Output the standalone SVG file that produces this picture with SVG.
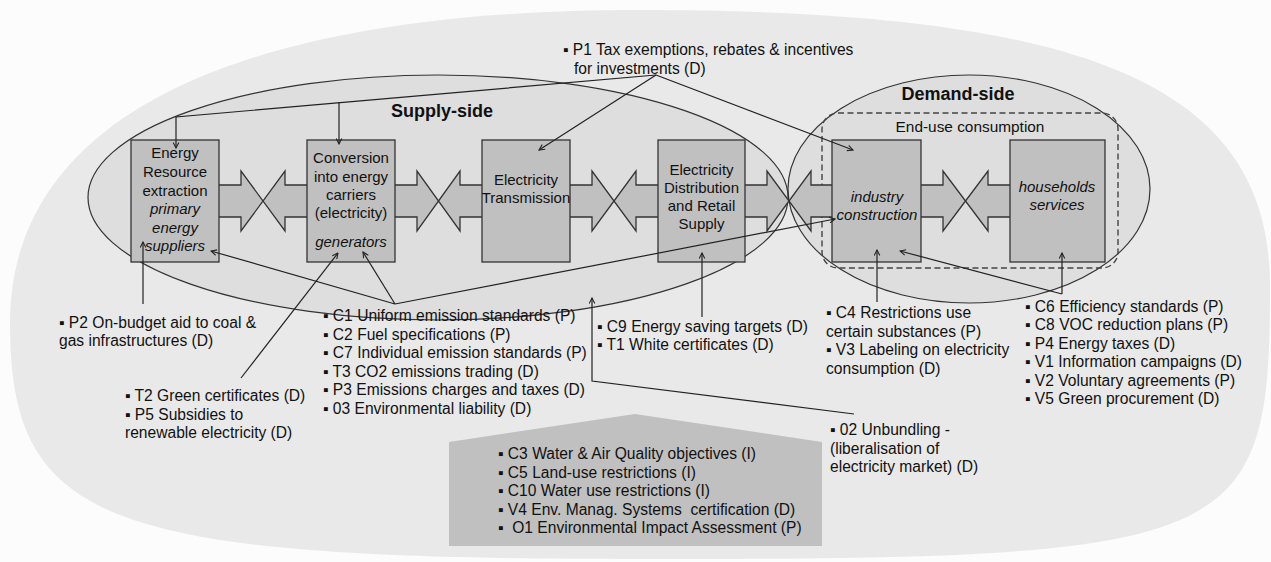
<svg xmlns="http://www.w3.org/2000/svg" width="1271" height="562" viewBox="0 0 1271 562">
<defs>
<style>
.t{font-family:"Liberation Sans",Arial,sans-serif;font-size:15.6px;fill:#111;white-space:pre}
.b{font-size:15px}
.c{text-anchor:middle}
.i{font-style:italic}
.h{font-weight:bold;font-size:18px}
.box{fill:#c0c0c0;stroke:#333;stroke-width:1.3}
.af{fill:#c0c0c0;stroke:none}
.as{fill:none;stroke:#333;stroke-width:1.3}
.ln{fill:none;stroke:#222;stroke-width:1.2}
.ar{marker-end:url(#ah)}
</style>
<marker id="ah" viewBox="0 0 10 10" refX="9" refY="5" markerWidth="7" markerHeight="7" markerUnits="userSpaceOnUse" orient="auto">
<path d="M1,1 L9,5 L1,9" fill="none" stroke="#222" stroke-width="1.5"/>
</marker>
</defs>
<rect width="1271" height="562" fill="#fcfcfc"/>
<g id="background">
<path d="M640,10 C1093.6,10 1270,87.6 1270,287 C1270,546.4 1238.5,559 640,559 C104.5,559 10,524.5 10,323 C10,119.6 230.5,10 640,10 Z" fill="#e9e9e9"/>
</g>
<g id="supply-side">
<ellipse cx="438" cy="197.5" rx="350" ry="122.5" fill="#dedede" stroke="#333" stroke-width="1.2"/>
<text class="t h c" x="442" y="117">Supply-side</text>
</g>
<g id="demand-side">
<ellipse cx="969" cy="189" rx="181" ry="114" fill="#dedede" stroke="#333" stroke-width="1.2"/>
<text class="t h c" x="958" y="100">Demand-side</text>
<rect x="822" y="113" width="296" height="155" rx="16" ry="16" fill="none" stroke="#444" stroke-width="1.4" stroke-dasharray="6,3.5"/>
<text class="t c" x="970" y="132" style="font-size:15.4px">End-use consumption</text>
</g>
<g id="flow-arrows">
<path class="af" d="M218,185 H241 V171 L263,201 L241,231 V217 H218 Z M308,185 H285 V171 L263,201 L285,231 V217 H308 Z"/>
<path class="af" d="M394,185 H417 V171 L438.5,201 L417,231 V217 H394 Z M483,185 H460 V171 L438.5,201 L460,231 V217 H483 Z"/>
<path class="af" d="M569,185 H592 V171 L614,201 L592,231 V217 H569 Z M659,185 H636 V171 L614,201 L636,231 V217 H659 Z"/>
<path class="af" d="M744,185 H767 V171 L789,201 L767,231 V217 H744 Z M833,185 H811 V171 L789,201 L811,231 V217 H833 Z"/>
<path class="af" d="M920,185 H943 V171 L965.5,201 L943,231 V217 H920 Z M1011,185 H988 V171 L965.5,201 L988,231 V217 H1011 Z"/>
</g>
<g id="node-extraction">
<rect class="box" x="131" y="140" width="88" height="122"/>
<text class="t b c" x="175" y="158">Energy</text>
<text class="t b c" x="175" y="177">Resource</text>
<text class="t b c" x="175" y="196">extraction</text>
<text class="t b c i" x="175" y="214">primary</text>
<text class="t b c i" x="175" y="233">energy</text>
<text class="t b c i" x="175" y="251">suppliers</text>
</g>
<g id="node-conversion">
<rect class="box" x="307" y="140" width="88" height="122"/>
<text class="t b c" x="351" y="163">Conversion</text>
<text class="t b c" x="351" y="182">into energy</text>
<text class="t b c" x="351" y="200">carriers</text>
<text class="t b c" x="351" y="218">(electricity)</text>
<text class="t b c i" x="351" y="247">generators</text>
</g>
<g id="node-transmission">
<rect class="box" x="482" y="140" width="88" height="122"/>
<text class="t b c" x="526" y="185">Electricity</text>
<text class="t b c" x="526" y="203">Transmission</text>
</g>
<g id="node-distribution">
<rect class="box" x="658" y="140" width="87" height="122"/>
<text class="t b c" x="701.5" y="175">Electricity</text>
<text class="t b c" x="701.5" y="193">Distribution</text>
<text class="t b c" x="701.5" y="211">and Retail</text>
<text class="t b c" x="701.5" y="229">Supply</text>
</g>
<g id="node-industry">
<rect class="box" x="832" y="140" width="89" height="122"/>
<text class="t b c i" x="877" y="202">industry</text>
<text class="t b c i" x="877" y="220">construction</text>
</g>
<g id="node-households">
<rect class="box" x="1010" y="140" width="95" height="122"/>
<text class="t b c i" x="1057" y="192">households</text>
<text class="t b c i" x="1057" y="210">services</text>
</g>
<g id="flow-arrow-outlines">
<path class="as" d="M219,185 H241 V171 L285,231 V217 H307 M219,217 H241 V231 L285,171 V185 H307"/>
<path class="as" d="M395,185 H417 V171 L460,231 V217 H482 M395,217 H417 V231 L460,171 V185 H482"/>
<path class="as" d="M570,185 H592 V171 L636,231 V217 H658 M570,217 H592 V231 L636,171 V185 H658"/>
<path class="as" d="M745,185 H767 V171 L811,231 V217 H832 M745,217 H767 V231 L811,171 V185 H832"/>
<path class="as" d="M921,185 H943 V171 L988,231 V217 H1010 M921,217 H943 V231 L988,171 V185 H1010"/>
</g>
<g id="node-bottom">
<polygon points="449,546 449,442 635,414 822,442 822,546" fill="#c0c0c0"/>
<text class="t" x="498" y="459">▪ C3 Water &amp; Air Quality objectives (I)</text>
<text class="t" x="498" y="477.5">▪ C5 Land-use restrictions (I)</text>
<text class="t" x="498" y="496">▪ C10 Water use restrictions (I)</text>
<text class="t" x="498" y="514.5">▪ V4 Env. Manag. Systems  certification (D)</text>
<text class="t" x="498" y="533">▪  O1 Environmental Impact Assessment (P)</text>
</g>
<g id="connectors">
<path class="ln ar" d="M656,75 L176,117 L176,148"/>
<path class="ln ar" d="M339,102 L339,144"/>
<path class="ln ar" d="M656,75 L539,150"/>
<path class="ln ar" d="M656,75 L853,150"/>
<path class="ln ar" d="M143,304 L143,242"/>
<path class="ln ar" d="M395,304 L211,251"/>
<path class="ln ar" d="M395,304 L363,252"/>
<path class="ln ar" d="M395,304 L835,219"/>
<path class="ln ar" d="M241,378 L338,253"/>
<path class="ln ar" d="M702,317 L702,253"/>
<path class="ln ar" d="M854,414 L592,381 L592,298"/>
<path class="ln ar" d="M877,302 L877,250"/>
<path class="ln ar" d="M1062,294 L1062,253"/>
<path class="ln ar" d="M1062,294 L900,251"/>
</g>
<g id="label-p1">
<text class="t" x="563" y="55">▪ P1 Tax exemptions, rebates &amp; incentives</text>
<text class="t" x="574" y="73.5">for investments (D)</text>
</g>
<g id="label-p2">
<text class="t" x="59" y="327.5">▪ P2 On-budget aid to coal &amp;</text>
<text class="t" x="59" y="346">gas infrastructures (D)</text>
</g>
<g id="label-t2">
<text class="t" x="125" y="401">▪ T2 Green certificates (D)</text>
<text class="t" x="125" y="419.5">▪ P5 Subsidies to</text>
<text class="t" x="125" y="438">renewable electricity (D)</text>
</g>
<g id="label-c1">
<text class="t" x="323" y="321">▪ C1 Uniform emission standards (P)</text>
<text class="t" x="323" y="339.6">▪ C2 Fuel specifications (P)</text>
<text class="t" x="323" y="358.2">▪ C7 Individual emission standards (P)</text>
<text class="t" x="323" y="376.8">▪ T3 CO2 emissions trading (D)</text>
<text class="t" x="323" y="395.4">▪ P3 Emissions charges and taxes (D)</text>
<text class="t" x="323" y="414">▪ 03 Environmental liability (D)</text>
</g>
<g id="label-c9">
<text class="t" x="597" y="331.5">▪ C9 Energy saving targets (D)</text>
<text class="t" x="597" y="350">▪ T1 White certificates (D)</text>
</g>
<g id="label-c4">
<text class="t" x="826" y="318">▪ C4 Restrictions use</text>
<text class="t" x="826" y="336.5">certain substances (P)</text>
<text class="t" x="826" y="355">▪ V3 Labeling on electricity</text>
<text class="t" x="826" y="373.5">consumption (D)</text>
</g>
<g id="label-c6">
<text class="t" x="1025" y="311.5">▪ C6 Efficiency standards (P)</text>
<text class="t" x="1025" y="330">▪ C8 VOC reduction plans (P)</text>
<text class="t" x="1025" y="348.5">▪ P4 Energy taxes (D)</text>
<text class="t" x="1025" y="367">▪ V1 Information campaigns (D)</text>
<text class="t" x="1025" y="385.5">▪ V2 Voluntary agreements (P)</text>
<text class="t" x="1025" y="404">▪ V5 Green procurement (D)</text>
</g>
<g id="label-o2">
<text class="t" x="830" y="435">▪ 02 Unbundling -</text>
<text class="t" x="830" y="453.5">(liberalisation of</text>
<text class="t" x="830" y="472">electricity market) (D)</text>
</g>
</svg>
